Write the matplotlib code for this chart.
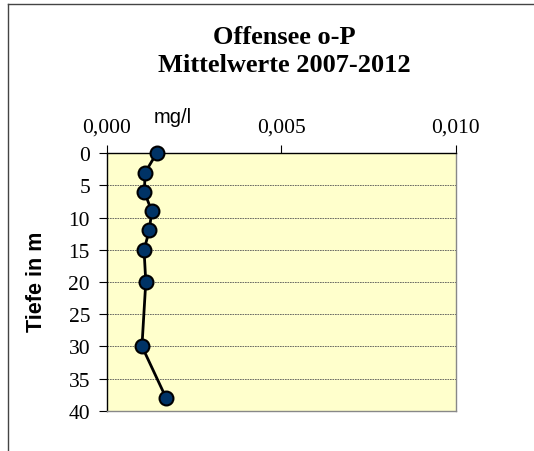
import numpy as np
import matplotlib
matplotlib.use("Agg")
from matplotlib import pyplot as plt
from matplotlib.lines import Line2D
from matplotlib.ticker import FuncFormatter

# mean o-P concentration per depth
depth = [0, 3, 6, 9, 12, 15, 20, 30, 38]
conc = [0.00143, 0.00110, 0.00108, 0.00129, 0.00122, 0.00107, 0.00112, 0.00101, 0.00170]
x_ticks = [0.000, 0.005, 0.010]
y_ticks = [0, 5, 10, 15, 20, 25, 30, 35, 40]

serif = "Liberation Serif"
sans = "Liberation Sans"

fig = plt.figure(figsize=(5.34, 4.52), dpi=100)
ax = fig.add_axes([0.1998, 0.0892, 0.6536, 0.5695])
ax.set_facecolor("#FFFFCC")

ax.plot(conc, depth, color="black", lw=2, marker="o", ms=10,
        mfc="#003366", mec="black", mew=1.5, zorder=3, clip_on=False)

ax.set_xlim(0, 0.010)
ax.set_ylim(40, 0)
ax.set_xticks(x_ticks)
ax.set_yticks(y_ticks)
ax.xaxis.set_major_formatter(FuncFormatter(lambda v, p: f"{v:.3f}".replace(".", ",")))
ax.xaxis.tick_top()
ax.tick_params(axis="x", direction="out", length=6, width=0.8, pad=6)
ax.tick_params(axis="y", direction="out", length=6, width=0.8, pad=6)
for lab in ax.get_xticklabels() + ax.get_yticklabels():
    lab.set_fontfamily(serif)
    lab.set_fontsize(15.5)

ax.grid(axis="y", color="#555555", ls=(0, (2, 1)), lw=0.6)
ax.spines["top"].set_color("black")
ax.spines["left"].set_color("black")
ax.spines["right"].set_color("#888888")
ax.spines["bottom"].set_color("#888888")
for s in ax.spines.values():
    s.set_linewidth(1.0)

fig.text(0.532, 1 - 37 / 452, "Offensee o-P", ha="center", va="center",
         fontfamily=serif, fontweight="bold", fontsize=19)
fig.text(0.532, 1 - 66 / 452, "Mittelwerte 2007-2012", ha="center", va="center",
         fontfamily=serif, fontweight="bold", fontsize=19)
fig.text(0.323, 0.741, "mg/l", ha="center", va="center",
         fontfamily=sans, fontsize=14.5)
fig.text(0.069, 0.376, "Tiefe in m", ha="center", va="center", rotation=90,
         fontfamily=sans, fontweight="bold", fontsize=15.5)

# outer chart frame (left and top edges)
fig.add_artist(Line2D([8 / 534, 8 / 534], [0, 1 - 5 / 452], transform=fig.transFigure,
                      color="#444444", lw=1))
fig.add_artist(Line2D([8 / 534, 1], [1 - 5 / 452, 1 - 5 / 452], transform=fig.transFigure,
                      color="#444444", lw=1))

fig.savefig("out.png", dpi=100)
